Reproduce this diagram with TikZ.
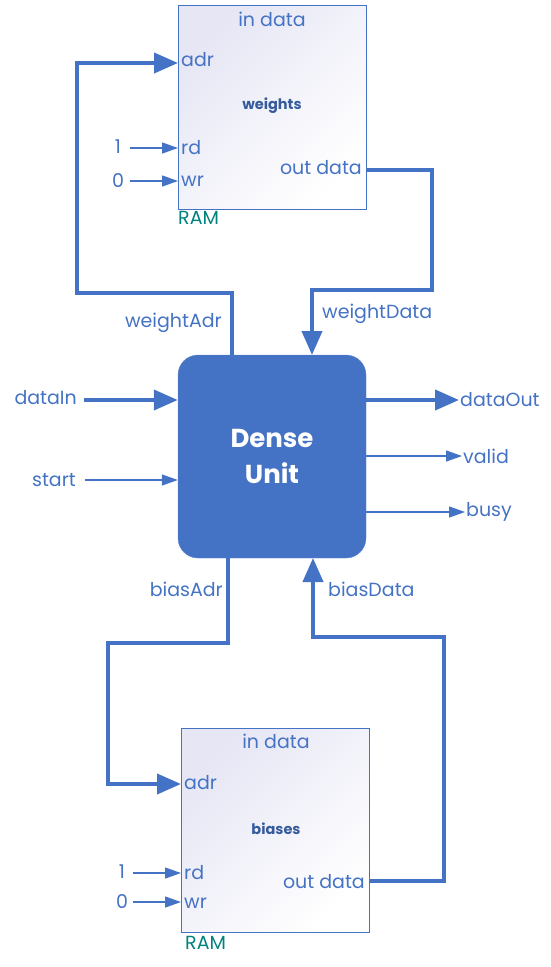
\documentclass[tikz,border=0pt]{standalone}
\usepackage{fontspec}
\setmainfont{Poppins}
\usetikzlibrary{arrows.meta,positioning}
\definecolor{unitblue}{HTML}{4472C4}
\definecolor{ramteal}{HTML}{00827F}
\definecolor{ramfill}{HTML}{E6E6F5}
\tikzset{
  ram/.style={draw=unitblue, line width=0.8pt, minimum width=188pt, minimum height=204pt,
    top color=ramfill, bottom color=white, shading angle=45, inner sep=0pt},
  unit/.style={fill=unitblue, draw=unitblue!85!white, rounded corners=20pt, minimum width=188pt,
    minimum height=203pt, text=white, align=center, font=\bfseries\fontsize{26}{36}\selectfont},
  lab/.style={text=unitblue, font=\fontsize{19}{22}\selectfont, inner sep=1pt},
  ramname/.style={text=unitblue!80!black, font=\bfseries\fontsize{14.5}{17}\selectfont},
  ramtag/.style={text=ramteal, font=\fontsize{19}{22}\selectfont, inner sep=1pt},
  bus/.style={draw=unitblue, line width=4pt, -{Triangle[length=24pt,width=20pt]}},
  wire/.style={draw=unitblue, line width=1.3pt, -{Triangle[length=16pt,width=11pt]}}
}
\begin{document}
\begin{tikzpicture}[x=1pt,y=-1pt]
\useasboundingbox (0,0) rectangle (551,967);

% Weights RAM
\node[ram] (wram) at (272,107) {};
\node[lab] (win) at (272,19) {in data};
\node[lab, anchor=west] (wadrlab) at (180,60) {adr};
\node[ramname] (wname) at (272,106) {weights};
\node[lab, anchor=west] (wrdlab) at (180,148) {rd};
\node[lab, anchor=west] (wwrlab) at (180,181) {wr};
\node[lab, anchor=east] (wout) at (363,168) {out data};
\node[ramtag, anchor=west] (wtag) at (177,218) {RAM};
\node[lab] (wone) at (118,147) {1};
\node[lab] (wzero) at (118,181) {0};
\coordinate (wadr) at (178,63);
\coordinate (wrd) at (178,148);
\coordinate (wwr) at (178,181);
\coordinate (wdata) at (366,170);
\draw[wire] (130,148) -- (wrd);
\draw[wire] (130,181) -- (wwr);

% Dense unit
\node[unit] (dense) at (272,456.5) {Dense\\Unit};
\coordinate (wadrout) at (232,355);
\coordinate (wdatain) at (312,355);
\coordinate (badrout) at (228,558);
\coordinate (bdatain) at (313,558);

% Biases RAM
\node[ram] (bram) at (275.5,830.5) {};
\node[lab] (bin) at (276,741) {in data};
\node[lab, anchor=west] (badrlab) at (183,783) {adr};
\node[ramname] (bname) at (276,829) {biases};
\node[lab, anchor=west] (brdlab) at (183,873) {rd};
\node[lab, anchor=west] (bwrlab) at (183,903) {wr};
\node[lab, anchor=east] (bout) at (366,882) {out data};
\node[ramtag, anchor=west] (btag) at (184,943) {RAM};
\node[lab] (bone) at (122,872) {1};
\node[lab] (bzero) at (122,902) {0};
\coordinate (badr) at (181,784);
\coordinate (brd) at (181,873);
\coordinate (bwr) at (181,902);
\coordinate (bdata) at (370,881);
\draw[wire] (133,873) -- (brd);
\draw[wire] (133,902) -- (bwr);

% Buses between unit and memories
\draw[bus] (wadrout) -- (232,293) -- (77,293) -- (77,63) -- (wadr);
\draw[bus] (wdata) -- (432,170) -- (432,290) -- (312,290) -- (wdatain);
\draw[bus] (badrout) -- (228,643) -- (108,643) -- (108,784) -- (badr);
\draw[bus] (bdata) -- (444,881) -- (444,637) -- (313,637) -- (bdatain);
\node[lab, anchor=east] (wadrname) at (223,323) {weightAdr};
\node[lab, anchor=west] (wdataname) at (321,314) {weightData};
\node[lab, anchor=east] (badrname) at (224,589) {biasAdr};
\node[lab, anchor=west] (bdataname) at (327,589) {biasData};

% Unit inputs and outputs
\node[lab, anchor=east] (datain) at (78,398) {dataIn};
\node[lab, anchor=east] (start) at (77,480) {start};
\node[lab, anchor=west] (dataout) at (459,400) {dataOut};
\node[lab, anchor=west] (valid) at (462,456) {valid};
\node[lab, anchor=west] (busy) at (465,512) {busy};
\draw[bus] (datain.east |- 0,400) ++(6,0) -- (dense.west |- 0,400);
\draw[wire] (start.east) ++(8,0) -- (dense.west |- start.east);
\draw[bus] (dense.east |- 0,400) -- (dataout.west);
\draw[wire] (dense.east |- valid.west) -- (valid.west);
\draw[wire] (dense.east |- busy.west) -- (busy.west);
\end{tikzpicture}
\end{document}
